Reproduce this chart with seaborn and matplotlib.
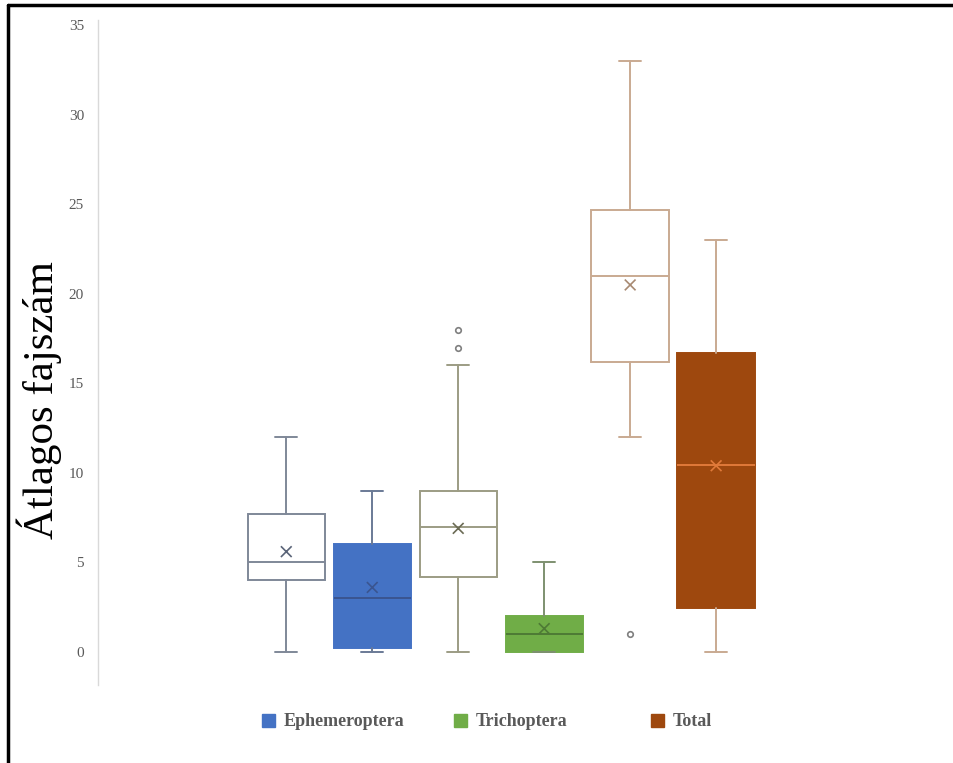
import numpy as np
import matplotlib.pyplot as plt
import seaborn as sns
from matplotlib.patches import Patch
from matplotlib.lines import Line2D

# box statistics (open box = first sample, filled box = second sample)
groups = ["Ephemeroptera", "Ephemeroptera", "Trichoptera", "Trichoptera", "Total", "Total"]
filled = [False, True, False, True, False, True]
whislo = [0, 0, 0, 0, 12, 0]
q1 = [4.0, 0.2, 4.2, 0, 16.2, 2.45]
med = [5.0, 3.0, 7.0, 1.0, 21.0, 10.45]
q3 = [7.7, 6.0, 9.0, 2.0, 24.7, 16.7]
whishi = [12, 9, 16, 5, 33, 23]
means = [5.6, 3.6, 6.9, 1.3, 20.5, 10.4]
outliers = [[], [], [17, 18], [], [1], []]

legend_names = ["Ephemeroptera", "Trichoptera", "Total"]
fill_colors = {"Ephemeroptera": "#4472C4", "Trichoptera": "#70AD47", "Total": "#9E480E"}
line_colors = ["#7F8898", "#6A7A96", "#9C9C84", "#7E9070", "#C9AA92", "#C9AA92"]
mean_colors = ["#5A6478", "#3A5590", "#6B6B55", "#4E7A35", "#A88A72", "#E07A3A"]

sns.set_theme(style="white")
plt.rcParams["font.family"] = ["Liberation Serif", "DejaVu Serif"]

fig = plt.figure(figsize=(9.54, 7.63), dpi=100)
ax = fig.add_axes([98 / 954, 1 - 685 / 763, 760 / 954, (685 - 20) / 763])

positions = np.arange(len(groups))
stats = []
for i in range(len(groups)):
    stats.append(dict(whislo=whislo[i], q1=q1[i], med=med[i], q3=q3[i],
                      whishi=whishi[i], mean=means[i], fliers=outliers[i]))

for i, s in enumerate(stats):
    lc = line_colors[i]
    fc = fill_colors[groups[i]] if filled[i] else "white"
    medc = lc
    if filled[i] and groups[i] == "Total":
        medc = "#E07A3A"
    elif filled[i]:
        medc = mean_colors[i]
    ax.bxp([s], positions=[positions[i]], widths=0.9, patch_artist=True,
           showmeans=False, showfliers=True,
           boxprops=dict(facecolor=fc, edgecolor=lc if not filled[i] else fc, linewidth=1.4),
           whiskerprops=dict(color=lc, linewidth=1.4),
           capprops=dict(color=lc, linewidth=1.4),
           medianprops=dict(color=medc, linewidth=1.4),
           flierprops=dict(marker="o", markersize=4, markerfacecolor="none",
                           markeredgecolor="#7F7F7F", markeredgewidth=1.2),
           capwidths=0.26)

# mean markers
sns.scatterplot(x=positions, y=means, marker="x", hue=positions, palette=mean_colors,
                s=60, linewidth=1.2, legend=False, ax=ax, zorder=5)

ax.set_xlim(-2.19, 6.65)
ax.set_ylim(-1.85, 35.3)
ax.set_yticks(np.arange(0, 36, 5))
ax.set_xticks([])
ax.tick_params(axis="y", labelsize=11, labelcolor="#595959", length=0, pad=10)
for side in ["top", "right", "bottom"]:
    ax.spines[side].set_visible(False)
ax.spines["left"].set_color("#D9D9D9")
ax.spines["left"].set_linewidth(1)
ax.set_ylabel("")
fig.text(39 / 954, 1 - 400 / 763, "Átlagos fajszám", rotation=90, fontsize=31,
         ha="center", va="center", color="black")

# legend entries placed one by one, as in the picture
legend_x = [262, 454, 651]
for name, x in zip(legend_names, legend_x):
    leg = fig.legend([Patch(facecolor=fill_colors[name], edgecolor=fill_colors[name])], [name],
                     loc="center left", bbox_to_anchor=(x / 954, 1 - 722 / 763), frameon=False,
                     prop=dict(weight="bold", size=13), handlelength=0.7, handleheight=0.7,
                     handletextpad=0.5, borderpad=0, borderaxespad=0)
    for t in leg.get_texts():
        t.set_color("#595959")

# frame around the picture (only left and top edges show)
fig.add_artist(Line2D([8 / 954, 8 / 954], [0, 1 - 5 / 763], color="black", linewidth=2.5))
fig.add_artist(Line2D([8 / 954, 1], [1 - 5 / 763, 1 - 5 / 763], color="black", linewidth=2.5))

fig.savefig("out.png", dpi=100)
